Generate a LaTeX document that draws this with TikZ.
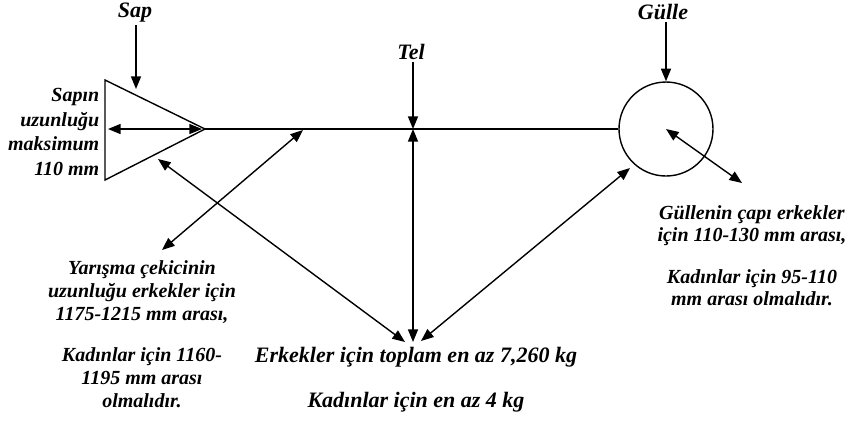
\documentclass[tikz,border=0pt]{standalone}
\usepackage{fontspec}
\setmainfont{Liberation Serif}
\usetikzlibrary{arrows.meta}
\tikzset{
  arrowto/.style={-{Triangle[length=6.3pt,width=5pt]}},
  arrowboth/.style={{Triangle[length=6.3pt,width=5pt]}-{Triangle[length=6.3pt,width=5pt]}},
  title/.style={font=\fontsize{11}{13}\selectfont\bfseries\itshape, inner sep=1pt},
  note/.style={font=\fontsize{10}{11.5}\selectfont\bfseries\itshape, align=center, inner sep=0pt},
}
\begin{document}
\begin{tikzpicture}[x=0.5pt,y=-0.5pt,line width=0.7pt]
\useasboundingbox (0,0) rectangle (851,420);
% sap
\coordinate (top) at (105,80);
\coordinate (bottom) at (105,180);
\coordinate (apex) at (205,129);
\draw (top) -- (apex) -- (bottom) -- cycle;
\coordinate (back) at (108,129);
\coordinate (front) at (202,129);
\draw[arrowboth] (back) -- (front);
\node[title] (sap) at (135,13) {Sap};
\coordinate (saphit) at (136,89);
\draw[arrowto] (sap.south -| saphit) -- (saphit);
\node[note, anchor=east, align=right, font=\fontsize{10}{12.3}\selectfont\bfseries\itshape] (grip) at (100,132) {Sapın\\uzunluğu\\maksimum\\110 mm};
% gulle
\node[circle, draw, minimum size=47pt, inner sep=0pt] (ball) at (666,129) {};
\draw (apex) -- (ball.west);
\node[title] (gulle) at (663,12) {Gülle};
\draw[arrowto] (gulle.south -| ball.north) -- (ball.north);
\coordinate (rim) at (742,183);
\draw[arrowboth] (ball.center) -- (rim);
\node[note, font=\fontsize{10}{11}\selectfont\bfseries\itshape] (size) at (752,256) {Güllenin çapı erkekler\\için 110-130 mm arası,\\[10pt]Kadınlar için 95-110\\mm arası olmalıdır.};
% tel
\node[title] (tel) at (411,52) {Tel};
\coordinate (wire) at (413,129);
\draw[arrowto] (tel.south -| wire) -- (wire);
\coordinate (sum) at (413,342);
\coordinate (sumL) at (405,342);
\coordinate (sumR) at (421,341);
\draw[arrowboth] (sum) -- (wire);
\coordinate (lowedge) at (158,159);
\draw[arrowboth] (lowedge) -- (sumL);
\coordinate (ballside) at (630,168);
\draw[arrowboth] (sumR) -- (ballside);
\coordinate (onwire) at (303,130);
\coordinate (lenend) at (162,250);
\draw[arrowboth] (onwire) -- (lenend);
% texts
\node[note] (length) at (142,334) {Yarışma çekicinin\\uzunluğu erkekler için\\1175-1215 mm arası,\\[9pt]Kadınlar için 1160-\\1195 mm arası\\olmalıdır.};
\node[note, font=\fontsize{11}{13}\selectfont\bfseries\itshape] (mass) at (416,380) {Erkekler için toplam en az 7,260 kg\\[9.5pt]Kadınlar için en az 4 kg};
\end{tikzpicture}
\end{document}
